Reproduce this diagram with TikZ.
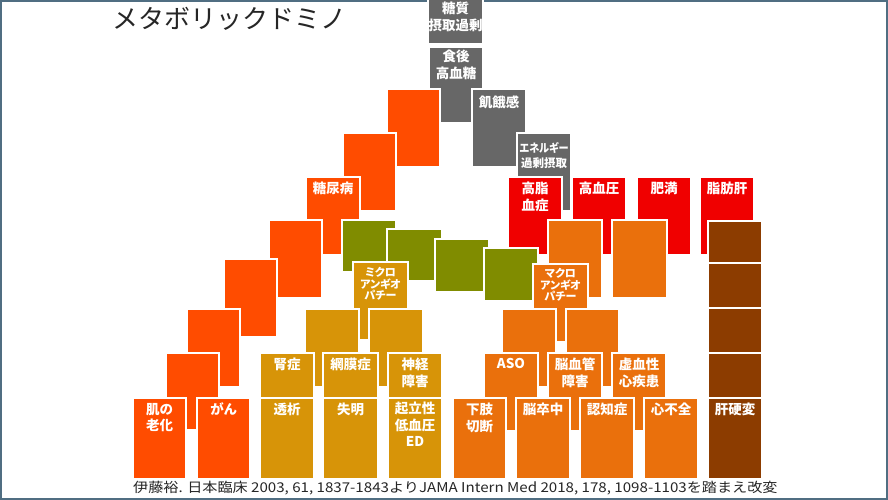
\documentclass[tikz,border=0pt]{standalone}
\usepackage{fontspec}
\newfontfamily\jpf{Noto Sans CJK JP}[RawFeature=+palt]
\newfontfamily\jpr{Noto Sans CJK JP}
\definecolor{cgray}{RGB}{103,103,103}
\definecolor{cred}{RGB}{240,0,0}
\definecolor{clo}{RGB}{255,76,0}
\definecolor{cro}{RGB}{234,112,12}
\definecolor{cgold}{RGB}{215,148,8}
\definecolor{colive}{RGB}{128,140,0}
\definecolor{cbrown}{RGB}{140,60,0}
\definecolor{cframe}{RGB}{80,110,130}
\tikzset{
  bx/.style={draw=white, line width=1.1pt, inner sep=0pt, outer sep=0pt, anchor=north west},
  lbl/.style={text=white, inner sep=0pt, outer sep=0pt, anchor=north, align=center,
    font=\jpf\bfseries\fontsize{13.5}{16.5}\selectfont},
  sml/.style={font=\jpf\bfseries\fontsize{11}{11.8}\selectfont},
  mid/.style={font=\jpf\bfseries\fontsize{11.5}{15}\selectfont},
}
\newcommand\bx[6]{\node[bx,fill=#6,minimum width=#4pt,minimum height=#5pt] (#1) at (#2,#3) {};}
\newcommand\lb[4][]{\node[lbl,#1] (#2t) at ([yshift=-#3pt]#2.north) {#4};}
\begin{document}
\begin{tikzpicture}[x=1pt,y=-1pt]
\useasboundingbox (0,0) rectangle (888,500);
\fill[white] (0,0) rectangle (888,500);
\draw[cframe, line width=1.6pt] (1,1) rectangle (887,499);
% title
\node[anchor=base west, inner sep=0pt, text=black!85, font=\jpr\fontsize{26}{30}\selectfont] (title) at (112,29) {メタボリックドミノ};
% gray chain
\bx{g1}{428}{-10}{55}{54}{cgray}
\bx{g2}{429}{47}{54}{76}{cgray}
\bx{g3}{472}{89}{54}{78}{cgray}
\bx{g4}{517}{133}{54}{78}{cgray}
% red
\bx{r1}{508}{177}{54}{78}{cred}
\bx{r2}{572}{177}{54}{78}{cred}
\bx{r3}{637}{177}{54}{78}{cred}
\bx{r4}{700}{177}{54}{78}{cred}
% left chain
\bx{l1}{387}{89}{53}{78}{clo}
\bx{l2}{343}{133}{53}{78}{clo}
\bx{l3}{306}{177}{54}{78}{clo}
\bx{l4}{269}{220}{53}{78}{clo}
\bx{l5}{224}{259}{53}{78}{clo}
\bx{l6}{187}{309}{53}{78}{clo}
\bx{l7}{166}{353}{53}{77}{clo}
\bx{l8}{133}{398}{53}{81}{clo}
\bx{l9}{197}{398}{53}{81}{clo}
% olive
\bx{v1}{342}{220}{54}{52}{colive}
\bx{v2}{387}{229}{55}{52}{colive}
\bx{v3}{435}{239}{54}{53}{colive}
\bx{v4}{484}{248}{54}{53}{colive}
% gold
\bx{y0}{353}{262}{55}{78}{cgold}
\bx{y1}{305}{309}{54}{78}{cgold}
\bx{y2}{369}{309}{54}{78}{cgold}
\bx{y3}{260}{353}{54}{78}{cgold}
\bx{y4}{323}{353}{55}{78}{cgold}
\bx{y5}{388}{353}{54}{78}{cgold}
\bx{y6}{260}{398}{54}{81}{cgold}
\bx{y7}{323}{398}{55}{81}{cgold}
\bx{y8}{388}{398}{54}{81}{cgold}
% right orange
\bx{o1}{548}{220}{54}{78}{cro}
\bx{o2}{612}{220}{55}{78}{cro}
\bx{o0}{533}{264}{55}{78}{cro}
\bx{o3}{502}{309}{54}{78}{cro}
\bx{o4}{566}{309}{53}{78}{cro}
\bx{o5}{484}{353}{54}{78}{cro}
\bx{o6}{548}{353}{54}{78}{cro}
\bx{o7}{612}{353}{54}{78}{cro}
\bx{o8}{453}{398}{53}{81}{cro}
\bx{o9}{516}{398}{54}{81}{cro}
\bx{o10}{580}{398}{54}{81}{cro}
\bx{o11}{644}{398}{54}{81}{cro}
% brown
\bx{b1}{708}{221}{54}{78}{cbrown}
\bx{b2}{708}{263}{54}{78}{cbrown}
\bx{b3}{708}{308}{54}{78}{cbrown}
\bx{b4}{708}{353}{54}{78}{cbrown}
\bx{b5}{708}{398}{54}{81}{cbrown}
% labels
\lb{g1}{12}{糖質\\摂取過剰}
\lb{g2}{3}{食後\\高血糖}
\lb{g3}{7}{飢餓感}
\lb[mid]{g4}{9}{\scalebox{0.88}[1]{エネルギー}\\過剰摂取}
\lb{r1}{5}{高脂\\血症}
\lb{r2}{5}{高血圧}
\lb{r3}{5}{肥満}
\lb{r4}{5}{脂肪肝}
\lb{l3}{5}{糖尿病}
\lb{l8}{5}{肌の\\老化}
\lb{l9}{5}{がん}
\lb[sml]{y0}{5}{ミクロ\\アンギオ\\パチー}
\lb{y3}{5}{腎症}
\lb{y4}{5}{網膜症}
\lb{y5}{5}{神経\\障害}
\lb{y6}{5}{透析}
\lb{y7}{5}{失明}
\lb{y8}{4}{起立性\\低血圧\\ED}
\lb[sml]{o0}{4}{マクロ\\アンギオ\\パチー}
\lb{o5}{5}{ASO}
\lb{o6}{5}{脳血管\\障害}
\lb{o7}{5}{虚血性\\心疾患}
\lb{o8}{5}{下肢\\切断}
\lb{o9}{5}{脳卒中}
\lb{o10}{5}{認知症}
\lb{o11}{5}{心不全}
\lb{b5}{5}{肝硬変}
% citation
\node[anchor=base west, inner sep=0pt, text=black!85, font=\jpr\fontsize{13.5}{15}\selectfont] (cite) at (133,492) {\scalebox{1.12}[1]{伊藤裕. 日本臨床 2003, 61, 1837-1843よりJAMA Intern Med 2018, 178, 1098-1103を踏まえ改変}};
\end{tikzpicture}
\end{document}
